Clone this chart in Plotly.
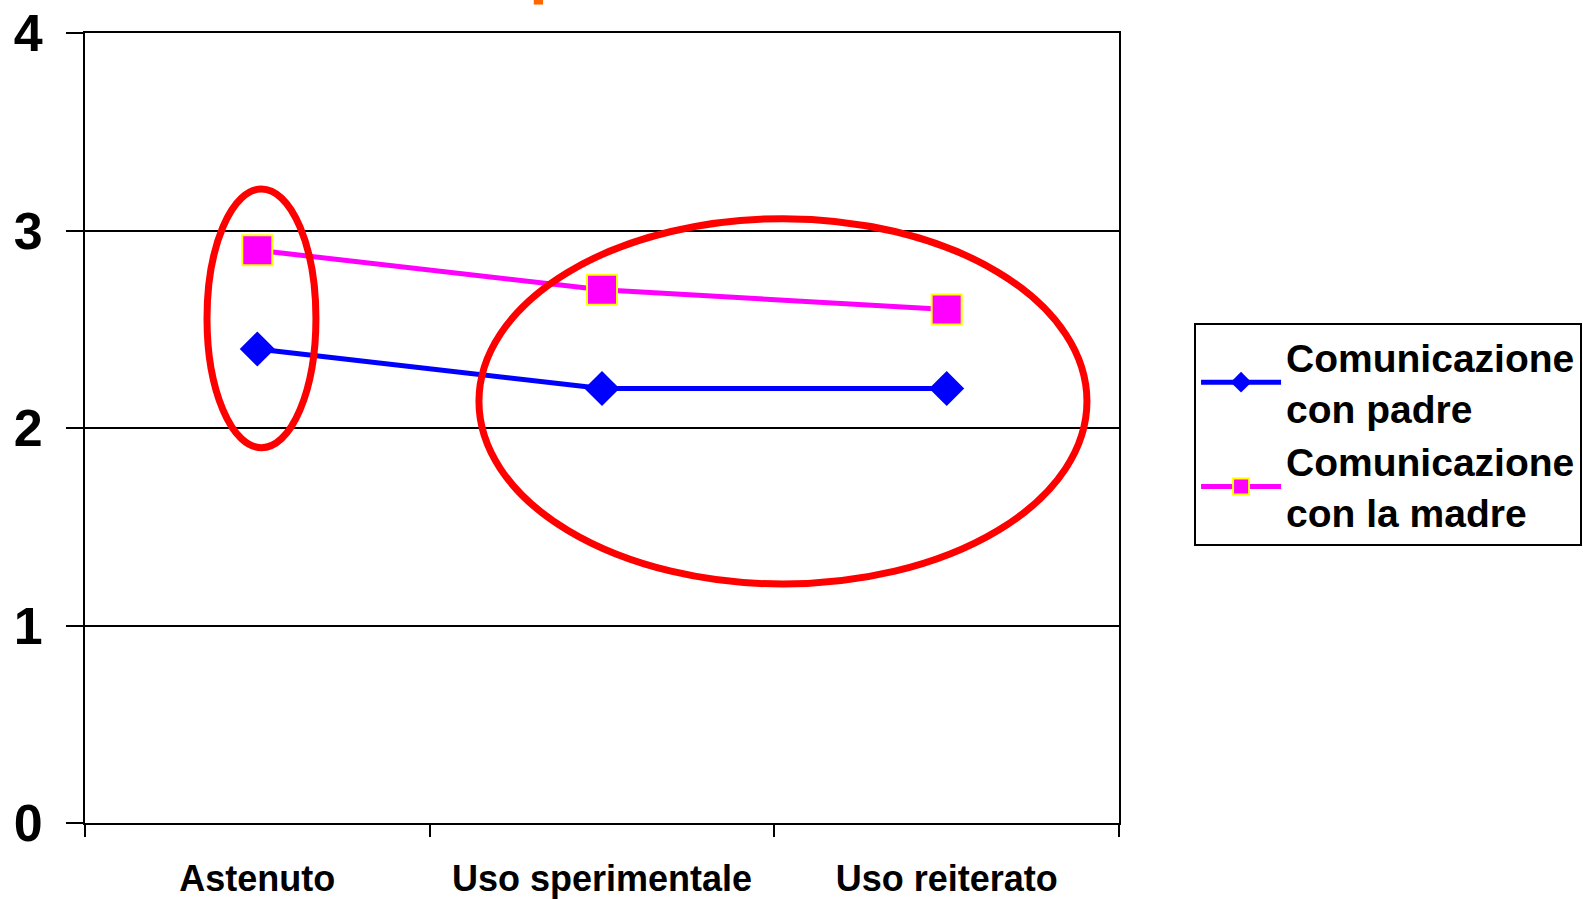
import plotly.graph_objects as go

categories = ["Astenuto", "Uso sperimentale", "Uso reiterato"]
padre = [2.4, 2.2, 2.2]
madre = [2.9, 2.7, 2.6]
series_names = ["Comunicazione<br>con padre", "Comunicazione<br>con la madre"]
y_ticks = [0, 1, 2, 3, 4]

FONT = "Liberation Sans, Arial, sans-serif"

fig = go.Figure()
fig.add_trace(go.Scatter(
    x=categories, y=padre, name=series_names[0], mode="lines+markers",
    line=dict(color="#0000FF", width=5),
    marker=dict(symbol="diamond", size=27, color="#0000FF", line=dict(width=0)),
))
fig.add_trace(go.Scatter(
    x=categories, y=madre, name=series_names[1], mode="lines+markers",
    line=dict(color="#FF00FF", width=5),
    marker=dict(symbol="square", size=30, color="#FF00FF", line=dict(color="#FFFF00", width=2)),
))

# red highlight ellipses
fig.add_shape(type="circle", xref="x", yref="y", x0=-0.146, x1=0.170, y0=1.90, y1=3.21,
              line=dict(color="#FF0000", width=7), layer="above")
fig.add_shape(type="circle", xref="x", yref="y", x0=0.643, x1=2.407, y0=1.21, y1=3.06,
              line=dict(color="#FF0000", width=7), layer="above")
# remnant of cut-off title
fig.add_shape(type="rect", xref="paper", yref="paper", x0=0.434, x1=0.443, y0=1.036, y1=1.06,
              fillcolor="#FF6600", line=dict(width=0), layer="above")

fig.update_layout(
    width=1583, height=899,
    margin=dict(l=85, r=464, t=33, b=76),
    paper_bgcolor="white", plot_bgcolor="white",
    font=dict(family=FONT, color="black"),
    showlegend=True,
    legend=dict(
        xref="container", yref="container",
        x=0.7543, y=0.6407, xanchor="left", yanchor="top",
        bordercolor="black", borderwidth=2, bgcolor="white",
        font=dict(family=FONT, size=39, color="black", weight="bold"),
        tracegroupgap=0, itemwidth=80,
    ),
)
fig.update_xaxes(
    type="category", range=[-0.5, 2.5], tickson="boundaries",
    showline=True, linecolor="black", linewidth=2, mirror=True,
    ticks="outside", ticklen=12, tickcolor="black", tickwidth=2,
    showgrid=False, automargin=False, ticklabelstandoff=23,
    tickfont=dict(family=FONT, size=36, color="black", weight="bold"),
)
fig.update_yaxes(
    range=[0, 4], tickvals=y_ticks, ticktext=[str(v) for v in y_ticks],
    showline=True, linecolor="black", linewidth=2, mirror=True,
    ticks="outside", ticklen=17, tickcolor="black", tickwidth=2,
    showgrid=True, gridcolor="black", gridwidth=1.5, zeroline=False,
    automargin=False, ticklabelstandoff=13,
    tickfont=dict(family=FONT, size=52, color="black", weight="bold"),
)

fig.write_html(
    "out.html",
    config={"displayModeBar": False},
    post_script="document.body.style.margin='0';document.body.style.overflow='hidden';",
)
